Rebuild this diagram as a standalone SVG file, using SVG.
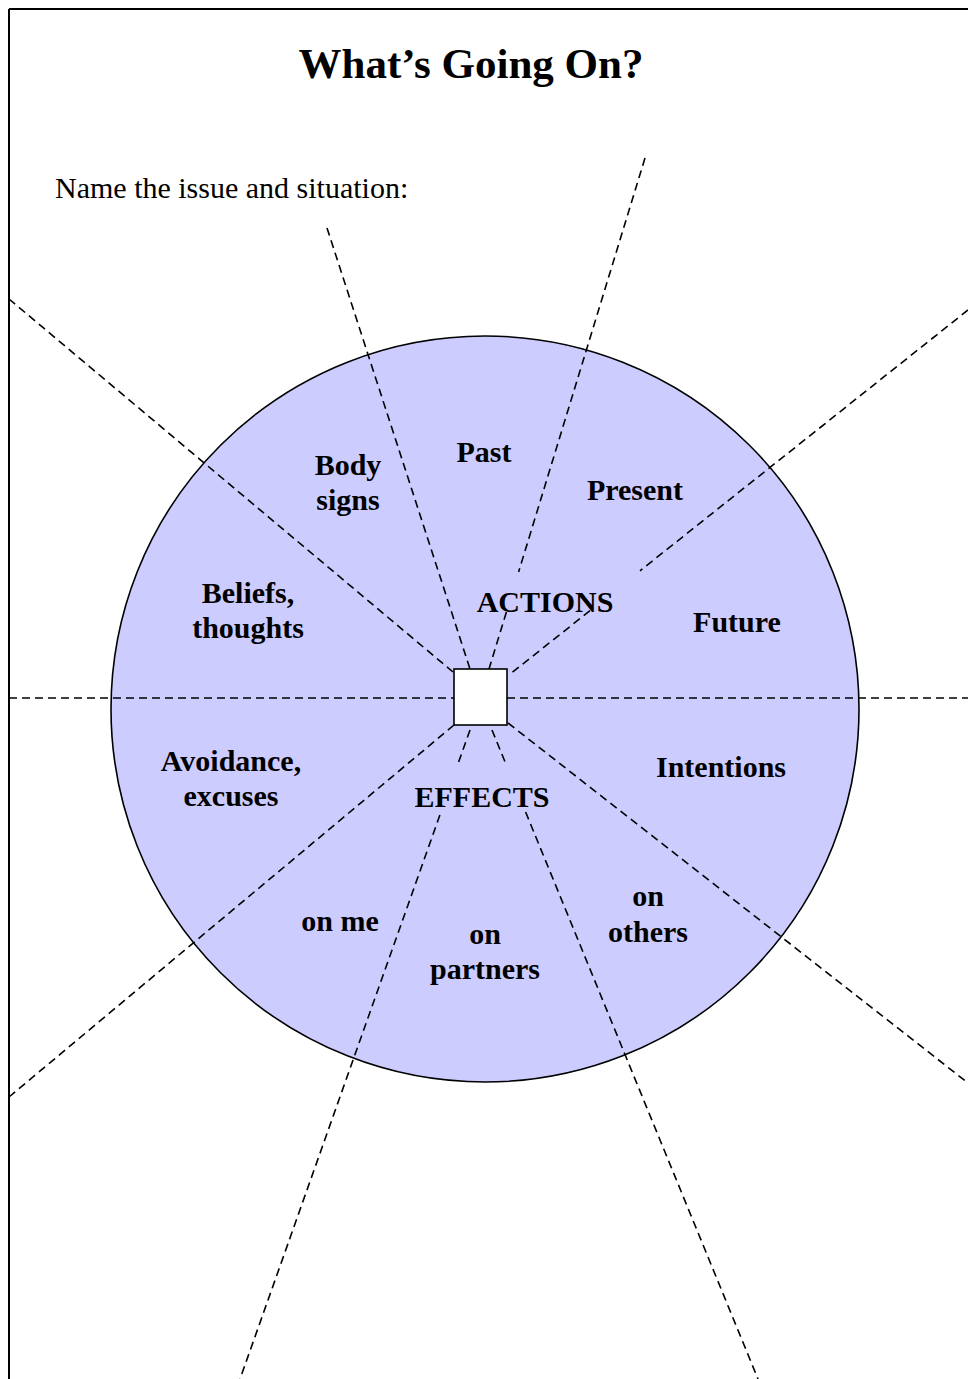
<svg xmlns="http://www.w3.org/2000/svg" width="968" height="1379" viewBox="0 0 968 1379">
<style>
.frame{stroke:#000;stroke-width:2;fill:none}
.dash{stroke:#000;stroke-width:1.6;stroke-dasharray:8 5;fill:none}
.lbl{font-family:"Liberation Serif","Times New Roman",serif;font-weight:bold;font-size:30px;fill:#000;text-anchor:middle}
</style>
<rect x="0" y="0" width="968" height="1379" fill="#fff"/>
<g id="frame">
<line class="frame" x1="9" y1="9" x2="968" y2="9"/>
<line class="frame" x1="9" y1="9" x2="9" y2="1379"/>
</g>
<g id="title">
<text x="471" y="78" font-family="Liberation Serif, Times New Roman, serif" font-weight="bold" font-size="43" text-anchor="middle">What’s Going On?</text>
</g>
<g id="prompt">
<text x="55" y="198" font-family="Liberation Serif, Times New Roman, serif" font-size="30">Name the issue and situation:</text>
</g>
<g id="wheel">
<ellipse cx="485" cy="709" rx="374" ry="373" fill="#ccccff" stroke="#000" stroke-width="1.6"/>
</g>
<g id="connectors">
<line class="dash" x1="9" y1="299" x2="453" y2="672"/>
<line class="dash" x1="327" y1="228" x2="470" y2="669"/>
<line class="dash" x1="645" y1="158" x2="518.6" y2="572"/>
<line class="dash" x1="506.4" y1="612" x2="489" y2="669"/>
<line class="dash" x1="968" y1="310" x2="640" y2="570.8"/>
<line class="dash" x1="590" y1="610.6" x2="509" y2="675"/>
<line class="dash" x1="9" y1="698" x2="454" y2="698"/>
<line class="dash" x1="507" y1="698" x2="968" y2="698"/>
<line class="dash" x1="454" y1="725" x2="9" y2="1097"/>
<line class="dash" x1="470" y1="730" x2="458.3" y2="763"/>
<line class="dash" x1="439.9" y1="815" x2="240" y2="1379"/>
<line class="dash" x1="492" y1="730" x2="505.5" y2="763"/>
<line class="dash" x1="525.6" y1="812" x2="758" y2="1379"/>
<line class="dash" x1="508" y1="723" x2="968" y2="1083"/>
</g>
<g id="center-box">
<rect x="454" y="669" width="53" height="56" fill="#fff" stroke="#000" stroke-width="1.6"/>
</g>
<g id="label-body-signs"><text class="lbl" x="348" y="475">Body</text><text class="lbl" x="348" y="510">signs</text></g>
<g id="label-past"><text class="lbl" x="484" y="462">Past</text></g>
<g id="label-present"><text class="lbl" x="635" y="500">Present</text></g>
<g id="label-beliefs"><text class="lbl" x="248" y="603">Beliefs,</text><text class="lbl" x="248" y="638">thoughts</text></g>
<g id="label-actions"><text class="lbl" x="545" y="612">ACTIONS</text></g>
<g id="label-future"><text class="lbl" x="737" y="632">Future</text></g>
<g id="label-avoidance"><text class="lbl" x="231" y="771">Avoidance,</text><text class="lbl" x="231" y="806">excuses</text></g>
<g id="label-effects"><text class="lbl" x="482" y="807">EFFECTS</text></g>
<g id="label-intentions"><text class="lbl" x="721" y="777">Intentions</text></g>
<g id="label-on-me"><text class="lbl" x="340" y="931">on me</text></g>
<g id="label-on-partners"><text class="lbl" x="485" y="944">on</text><text class="lbl" x="485" y="979">partners</text></g>
<g id="label-on-others"><text class="lbl" x="648" y="906">on</text><text class="lbl" x="648" y="942">others</text></g>
</svg>
